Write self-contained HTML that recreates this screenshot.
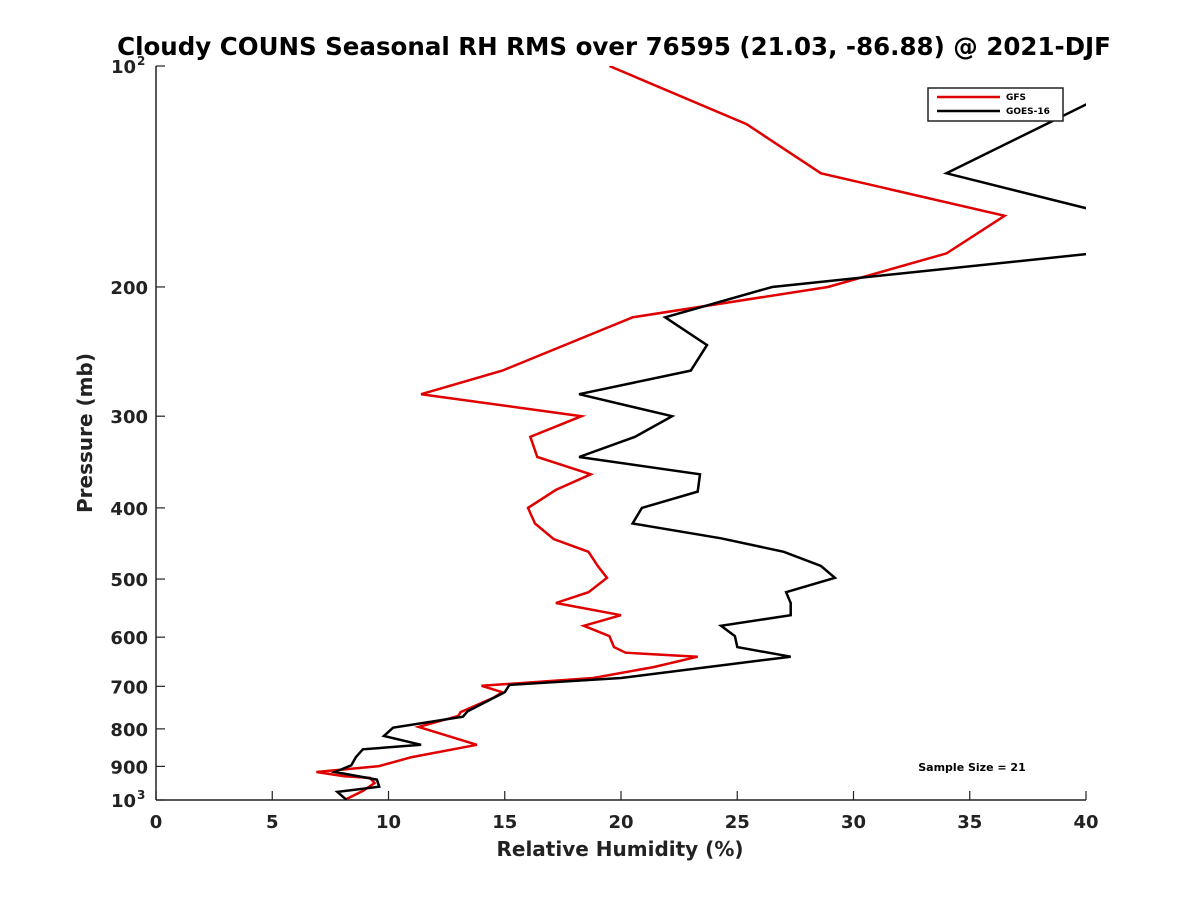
<!DOCTYPE html>
<html><head><meta charset="utf-8"><style>
html,body{margin:0;padding:0;background:#fff;}
svg{display:block;font-family:"DejaVu Sans","Liberation Sans",sans-serif;}
</style></head><body>
<svg id="chart" width="1200" height="900">
<rect width="1200" height="900" fill="#fff"/>
<text x="614" y="55" text-anchor="middle" font-size="24.5" font-weight="bold" fill="#000">Cloudy COUNS Seasonal RH RMS over 76595 (21.03, -86.88) @ 2021-DJF</text>
<defs><clipPath id="plotclip"><rect x="156" y="66" width="930" height="734"/></clipPath></defs>
<g id="axes"></g>
<g id="series" clip-path="url(#plotclip)"></g>
<text x="620" y="856" text-anchor="middle" font-size="20" font-weight="bold" fill="#222">Relative Humidity (%)</text>
<text transform="translate(92,433) rotate(-90)" text-anchor="middle" font-size="20" font-weight="bold" fill="#222">Pressure (mb)</text>
<g>
<rect x="928" y="88" width="135" height="33" fill="#fff" stroke="#222" stroke-width="1.5"/>
<line x1="937" y1="97" x2="1000" y2="97" stroke="#e00000" stroke-width="2.5"/>
<text x="1006" y="100" font-size="9" font-weight="bold">GFS</text>
<line x1="937" y1="111" x2="1000" y2="111" stroke="#000" stroke-width="2.5"/>
<text x="1006" y="114" font-size="9" font-weight="bold">GOES-16</text>
</g>
<text x="972" y="771" text-anchor="middle" font-size="11" font-weight="bold">Sample Size = 21</text>
</svg>
<script>
const xTicks = [0,5,10,15,20,25,30,35,40];
const yTicks = [100,200,300,400,500,600,700,800,900,1000];
const yTickLabels = ["10|2","200","300","400","500","600","700","800","900","10|3"];
const gfsPressure = [100,120,140,160,180,200,220,260,280,300,320,341,360,378,400,420,441,459,480,498,521,539,560,579,598,619,630,638,659,682,699,713,726,759,768,795,841,874,899,916,928,933,948,972,997];
const gfsRH = [19.5,25.4,28.6,36.5,34.0,28.9,20.5,14.9,11.4,18.3,16.1,16.4,18.7,17.2,16.0,16.3,17.1,18.6,19.0,19.4,18.6,17.2,20.0,18.4,19.5,19.7,20.2,23.3,21.4,18.8,14.0,14.9,14.5,13.1,13.0,11.3,13.8,11.0,9.6,6.9,8.1,9.2,9.4,8.9,8.2];
const goesPressure = [105,140,162,175,200,220,240,260,280,300,320,341,360,380,400,420,440,459,480,498,521,539,560,579,598,619,638,682,697,713,757,770,797,818,841,853,874,897,916,938,959,975,1000];
const goesRH = [42,34,42,44,26.5,21.9,23.7,23.0,18.2,22.2,20.6,18.2,23.4,23.3,20.9,20.5,24.3,27.0,28.6,29.2,27.1,27.3,27.3,24.3,24.9,25.0,27.3,20.0,15.2,15.0,13.4,13.2,10.2,9.8,11.4,8.9,8.6,8.4,7.7,9.5,9.6,7.8,8.2];

const X0=156,X1=1086,Y0=66,Y1=800;
const xs=v=>X0+(v-0)/40*(X1-X0);
const ys=p=>Y0+(Math.log10(p)-2)*(Y1-Y0);
const NS="http://www.w3.org/2000/svg";
const axes=document.getElementById('axes');
function mk(tag,attrs,parent){const e=document.createElementNS(NS,tag);for(const k in attrs)e.setAttribute(k,attrs[k]);parent.appendChild(e);return e;}
let l=mk('line',{x1:X0,y1:Y1,x2:X1,y2:Y1,stroke:'#222','stroke-width':1.5},axes);


l=mk('line',{x1:X0,y1:Y0,x2:X0,y2:Y1,stroke:'#222','stroke-width':1.5},axes);


xTicks.forEach(v=>{
  const t=mk('line',{x1:xs(v),y1:Y1,x2:xs(v),y2:Y1-9,stroke:'#222','stroke-width':1.2},axes);
  
  
  const tx=mk('text',{x:xs(v),y:Y1+28,'text-anchor':'middle','font-size':18,'font-weight':'bold',fill:'#222'},axes);
  tx.textContent=v;
  
  
});
yTicks.forEach((p,i)=>{
  const t=mk('line',{x1:X0,y1:ys(p),x2:X0+9,y2:ys(p),stroke:'#222','stroke-width':1.2},axes);
  
  
  const lab=yTickLabels[i];
  if(lab.indexOf('|')>=0){
    const parts=lab.split('|');
    const tx=mk('text',{x:X0-20,y:ys(p)+7,'text-anchor':'end','font-size':18,'font-weight':'bold',fill:'#222'},axes);
    tx.textContent=parts[0];
    
    
    const sp=mk('text',{x:X0-19,y:ys(p)-1,'text-anchor':'start','font-size':12,'font-weight':'bold',fill:'#222'},axes);
    sp.textContent=parts[1];
    
    
  } else {
    const tx=mk('text',{x:X0-8,y:ys(p)+7,'text-anchor':'end','font-size':18,'font-weight':'bold',fill:'#222'},axes);
    tx.textContent=lab;
    
    
  }
});
const series=document.getElementById('series');
function line(ps,vs,color,name){
  const d=ps.map((p,i)=>(i?'L':'M')+xs(vs[i]).toFixed(1)+','+ys(p).toFixed(1)).join('');
  const e=mk('path',{d:d,fill:'none',stroke:color,'stroke-width':2.5,'stroke-linejoin':'miter'},series);
  
  
}
line(gfsPressure,gfsRH,'#e00000','gfs-line');
line(goesPressure,goesRH,'#000','goes16-line');
</script>
</body></html>
